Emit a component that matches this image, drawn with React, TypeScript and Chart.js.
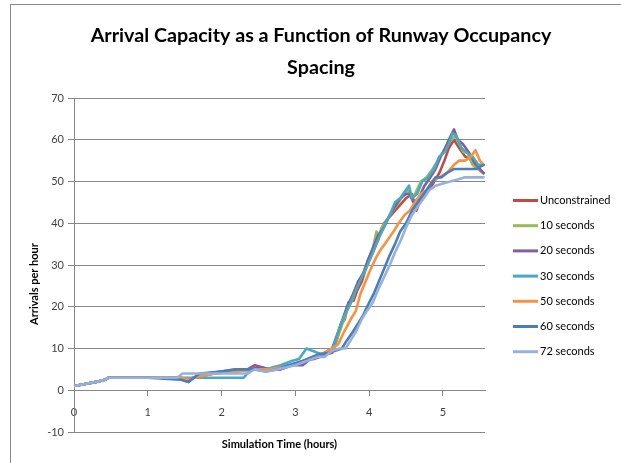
import React, { useEffect, useRef } from "react";
import { Chart, registerables } from "chart.js";

Chart.register(...registerables);

const FONT = '"Liberation Sans Narrow", Lato, sans-serif';

const TITLE_LINES = ["Arrival Capacity as a Function of Runway Occupancy", "Spacing"];
const X_TITLE = "Simulation Time (hours)";
const Y_TITLE = "Arrivals per hour";

const SERIES_NAMES = ["Unconstrained", "10 seconds", "20 seconds", "30 seconds", "50 seconds", "60 seconds", "72 seconds"];
const SERIES_COLORS = ["#BE4B48", "#98B954", "#7D60A0", "#46AAC5", "#F69240", "#4A7EBB", "#97B1DC"];

const X_MIN = 0;
const X_MAX = 5.57;
const Y_MIN = -10;
const Y_MAX = 70;
const Y_STEP = 10;
const X_STEP = 1;

// Unconstrained
const T_U = [0, 0.15, 0.3, 0.42, 0.47, 1.0, 1.45, 1.55, 1.62, 1.9, 2.2, 2.4, 2.5, 2.65, 2.8, 2.95, 3.1, 3.25, 3.4, 3.5, 3.56, 3.62, 3.67, 3.72, 3.79, 3.84, 3.9, 3.97, 4.05, 4.12, 4.2, 4.3, 4.4, 4.5, 4.58, 4.64, 4.68, 4.75, 4.85, 4.95, 5.02, 5.08, 5.15, 5.22, 5.3, 5.4, 5.48, 5.55];
const V_U = [1, 1.5, 2, 2.5, 3, 3, 3, 2.3, 3, 4, 4.5, 5, 5.5, 5, 5, 6, 7, 7.5, 8.5, 9, 12, 16, 17, 21, 21.5, 24, 26, 30, 33, 36, 40, 42, 44, 46, 47, 43, 45, 47, 49, 52, 55, 58, 60, 58, 56, 55, 53, 52];

// 10 seconds
const T_10 = [0, 0.15, 0.3, 0.42, 0.47, 1.0, 1.45, 1.55, 1.62, 1.9, 2.2, 2.4, 2.5, 2.65, 2.8, 2.95, 3.1, 3.25, 3.4, 3.5, 3.56, 3.62, 3.7, 3.78, 3.85, 3.92, 3.98, 4.05, 4.1, 4.13, 4.17, 4.25, 4.32, 4.4, 4.47, 4.52, 4.57, 4.62, 4.7, 4.78, 4.86, 4.93, 5.0, 5.06, 5.12, 5.17, 5.22, 5.28, 5.33, 5.4, 5.47, 5.55];
const V_10 = [1, 1.5, 2, 2.5, 3, 3, 3, 2.5, 3, 4, 4.5, 5, 5, 5, 5.5, 6, 7, 8, 9, 10, 12, 15, 19, 22, 26, 28, 31, 34, 38, 37, 39, 41, 43, 45, 47, 48, 46, 47, 50, 51, 53, 55, 57, 59, 60, 61, 59, 57, 57, 54, 53, 52];

// 20 seconds
const T_20 = [0, 0.15, 0.3, 0.42, 0.47, 1.0, 1.42, 1.55, 1.62, 1.8, 2.2, 2.35, 2.45, 2.55, 2.65, 2.8, 2.95, 3.1, 3.2, 3.3, 3.4, 3.5, 3.56, 3.62, 3.7, 3.78, 3.85, 3.92, 3.98, 4.05, 4.12, 4.2, 4.28, 4.35, 4.42, 4.5, 4.55, 4.6, 4.67, 4.75, 4.83, 4.9, 4.97, 5.03, 5.08, 5.15, 5.2, 5.27, 5.35, 5.42, 5.5, 5.55];
const V_20 = [1, 1.5, 2, 2.5, 3, 3, 3, 2, 3, 4, 5, 5, 6, 5.5, 5, 5, 6, 6, 7.5, 8, 9, 10, 13, 16, 20, 23, 26, 28, 31, 34, 37, 39, 42, 44, 46, 47, 47, 45, 46, 49, 51, 53, 56, 58, 60, 62.5, 60, 59, 57, 55, 53, 52];

// 30 seconds
const T_30 = [0, 0.15, 0.3, 0.42, 0.47, 1.0, 1.45, 1.55, 2.0, 2.3, 2.4, 2.6, 2.8, 2.95, 3.05, 3.15, 3.22, 3.3, 3.4, 3.5, 3.55, 3.6, 3.67, 3.75, 3.82, 3.9, 3.98, 4.05, 4.12, 4.2, 4.28, 4.35, 4.42, 4.5, 4.54, 4.58, 4.65, 4.72, 4.8, 4.88, 4.95, 5.02, 5.08, 5.13, 5.18, 5.25, 5.32, 5.4, 5.48, 5.55];
const V_30 = [1, 1.5, 2, 2.5, 3, 3, 3, 3, 3, 3, 5, 5, 6, 7, 7.5, 10, 9.5, 9, 8.5, 10, 12, 15, 18, 21, 24, 27, 30, 33, 36, 39, 42, 45, 46, 48, 49, 46, 47, 50, 51, 53, 56, 57, 59, 61.5, 61, 58, 57, 56, 54, 54];

// 50 seconds
const T_50 = [0, 0.15, 0.3, 0.42, 0.47, 1.0, 1.45, 1.55, 1.62, 1.9, 2.2, 2.4, 2.5, 2.65, 2.8, 2.95, 3.1, 3.25, 3.4, 3.5, 3.58, 3.66, 3.75, 3.82, 3.88, 3.95, 4.02, 4.1, 4.17, 4.25, 4.33, 4.4, 4.48, 4.55, 4.62, 4.7, 4.78, 4.85, 4.95, 5.05, 5.15, 5.22, 5.3, 5.38, 5.44, 5.5, 5.55];
const V_50 = [1, 1.5, 2, 2.5, 3, 3, 3, 2.5, 3, 4, 4.5, 5, 5, 5, 5.5, 6, 7, 8, 9, 10, 11, 14, 17, 19, 23, 26, 29, 32, 34, 36, 38, 40, 42, 43, 45, 47, 48, 50, 51, 52, 54, 55, 55, 56, 57.5, 55, 54];

// 60 seconds
const T_60 = [0, 0.15, 0.3, 0.42, 0.47, 1.0, 1.45, 1.55, 1.7, 2.0, 2.2, 2.45, 2.6, 2.75, 2.9, 3.1, 3.3, 3.45, 3.55, 3.63, 3.7, 3.78, 3.85, 3.92, 4.0, 4.06, 4.13, 4.2, 4.27, 4.35, 4.42, 4.5, 4.58, 4.66, 4.74, 4.82, 4.9, 4.98, 5.05, 5.15, 5.3, 5.45, 5.55];
const V_60 = [1, 1.5, 2, 2.5, 3, 3, 2.5, 2, 4, 4.5, 5, 5, 4.5, 5, 6, 7, 8.5, 9, 9.5, 10, 12, 14, 16, 18, 21, 23, 26, 29, 32, 35, 38, 40, 43, 45, 47, 49, 51, 51, 52, 53, 53, 53, 54];

// 72 seconds
const T_72 = [0, 0.15, 0.3, 0.42, 0.47, 1.0, 1.4, 1.47, 2.0, 2.35, 2.45, 2.6, 2.75, 3.0, 3.3, 3.4, 3.5, 3.6, 3.68, 3.75, 3.82, 3.9, 3.97, 4.05, 4.12, 4.2, 4.28, 4.35, 4.43, 4.5, 4.58, 4.66, 4.74, 4.82, 4.9, 5.0, 5.1, 5.2, 5.3, 5.45, 5.55];
const V_72 = [1, 1.5, 2, 2.5, 3, 3, 3, 4, 4, 4, 5, 4.5, 5, 6, 8, 8, 9.5, 10, 10, 12, 14, 17, 19, 21, 24, 27, 30, 33, 36, 39, 42, 44, 46, 48, 49, 49.5, 50, 50.5, 51, 51, 51];

const SERIES_T = [T_U, T_10, T_20, T_30, T_50, T_60, T_72];
const SERIES_V = [V_U, V_10, V_20, V_30, V_50, V_60, V_72];

const chromePlugin = {
  id: "chrome",
  beforeDraw(chart: any) {
    const ctx = chart.ctx;
    ctx.save();
    ctx.fillStyle = "#ffffff";
    ctx.fillRect(0, 0, chart.width, chart.height);
    ctx.strokeStyle = "#8a8a8a";
    ctx.lineWidth = 1;
    ctx.strokeRect(10.5, 4.5, chart.width + 20, chart.height + 20);
    ctx.restore();
  },
  afterDraw(chart: any) {
    const ctx = chart.ctx;
    const area = chart.chartArea;
    ctx.save();
    // Title
    let size = 22;
    ctx.font = `bold ${size}px ${FONT}`;
    const w = ctx.measureText(TITLE_LINES[0]).width;
    size = Math.min(22, (size * 461) / w);
    ctx.font = `bold ${size}px ${FONT}`;
    ctx.fillStyle = "#000000";
    ctx.textAlign = "center";
    ctx.textBaseline = "alphabetic";
    ctx.fillText(TITLE_LINES[0], 321, 42);
    ctx.fillText(TITLE_LINES[1], 321, 73.5);

    // X axis title
    ctx.font = `bold 11px ${FONT}`;
    ctx.textBaseline = "middle";
    ctx.fillText(X_TITLE, (area.left + area.right) / 2, 444);

    // Y axis title
    ctx.save();
    ctx.translate(34, 284);
    ctx.rotate(-Math.PI / 2);
    ctx.fillText(Y_TITLE, 0, 0);
    ctx.restore();

    // Legend
    ctx.font = `11px ${FONT}`;
    ctx.textAlign = "left";
    ctx.textBaseline = "middle";
    SERIES_NAMES.forEach((name, i) => {
      const y = 200.5 + i * 25.2;
      ctx.strokeStyle = SERIES_COLORS[i];
      ctx.lineWidth = 3;
      ctx.beginPath();
      ctx.moveTo(513, y);
      ctx.lineTo(538, y);
      ctx.stroke();
      ctx.fillStyle = "#000000";
      ctx.fillText(name, 540, y);
    });
    ctx.restore();
  },
};

export default function App() {
  const ref = useRef<HTMLCanvasElement | null>(null);
  useEffect(() => {
    if (!ref.current) return;
    const datasets = SERIES_NAMES.map((name, i) => ({
      label: name,
      data: SERIES_T[i].map((t, j) => ({ x: t, y: SERIES_V[i][j] })),
      borderColor: SERIES_COLORS[i],
      backgroundColor: SERIES_COLORS[i],
      borderWidth: 2.6,
      pointRadius: 0,
      tension: 0,
      fill: false,
      borderJoinStyle: "round" as const,
      borderCapStyle: "round" as const,
      order: SERIES_NAMES.length - i,
    }));
    const chart = new Chart(ref.current, {
      type: "line",
      data: { datasets },
      plugins: [chromePlugin],
      options: {
        animation: false,
        responsive: false,
        events: [],
        layout: { padding: { left: 0, right: 136, top: 98, bottom: 31 } },
        plugins: {
          legend: { display: false },
          title: { display: false },
          tooltip: { enabled: false },
        },
        scales: {
          x: {
            type: "linear",
            min: X_MIN,
            max: X_MAX,
            position: { y: 0 } as any,
            afterBuildTicks: (scale: any) => {
              scale.ticks = scale.ticks.filter((t: any) => Number.isInteger(t.value));
            },
            ticks: {
              stepSize: X_STEP,
              padding: 11,
              color: "#404040",
              font: { family: FONT, size: 11 },
              maxRotation: 0,
            },
            grid: {
              drawOnChartArea: false,
              drawTicks: true,
              tickLength: 5,
              color: "#868686",
            },
            border: { display: true, color: "#868686" },
          },
          y: {
            type: "linear",
            min: Y_MIN,
            max: Y_MAX,
            afterFit: (scale: any) => {
              scale.width = 74;
            },
            ticks: {
              stepSize: Y_STEP,
              padding: 4,
              color: "#404040",
              font: { family: FONT, size: 11 },
            },
            grid: {
              color: "#878787",
              drawTicks: true,
              tickLength: 6,
            },
            border: { display: true, color: "#878787" },
          },
        },
      },
    });
    return () => chart.destroy();
  }, []);
  return (
    <div style={{ position: "absolute", left: 0, top: 0, width: 621, height: 463, background: "#fff" }}>
      <canvas ref={ref} width={621} height={463} />
    </div>
  );
}
